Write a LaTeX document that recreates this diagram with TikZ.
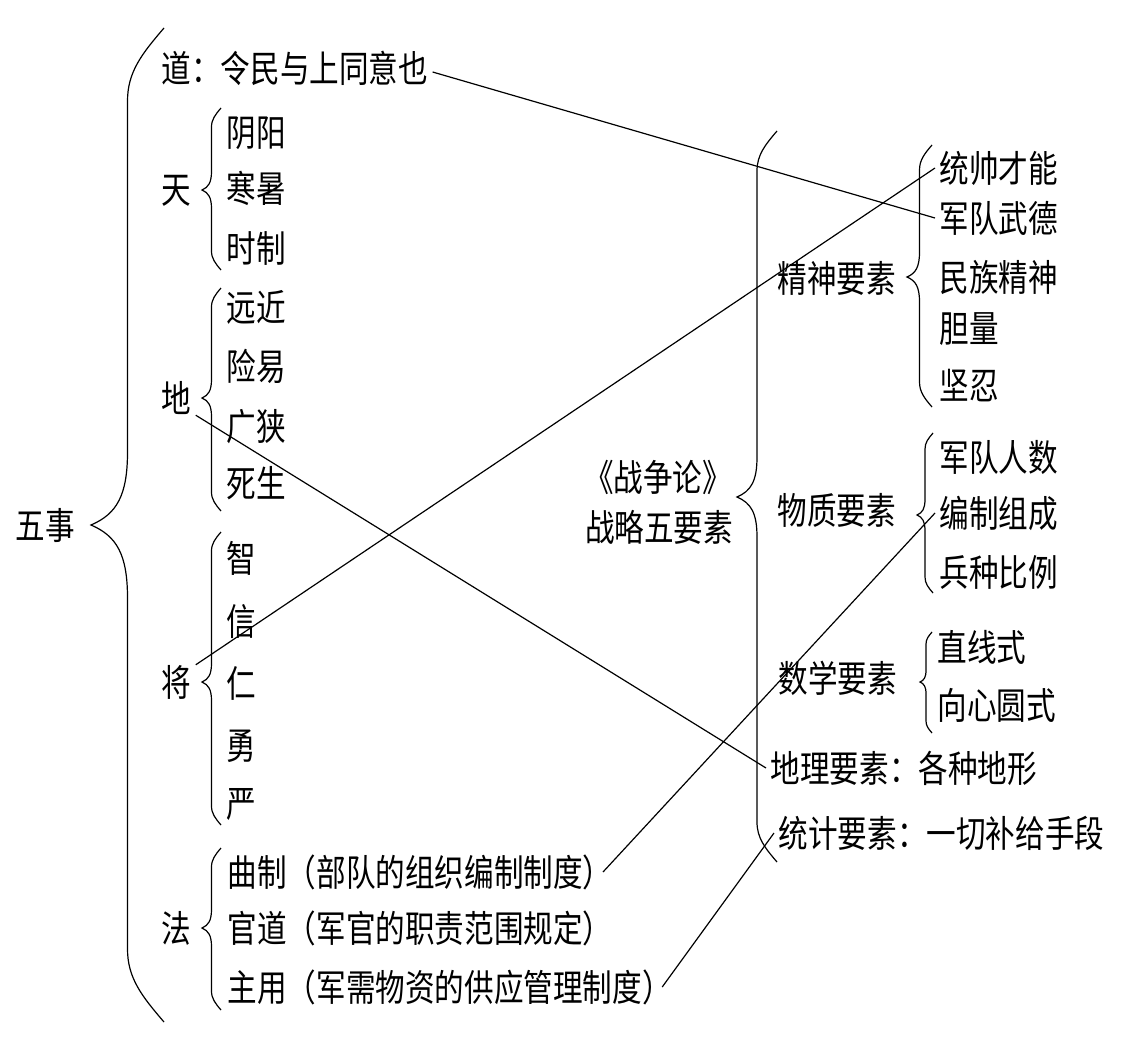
\documentclass[tikz,border=0pt]{standalone}
\usepackage{fontspec}
\setmainfont{Noto Sans CJK SC}[FakeStretch=0.8]
\usetikzlibrary{calc}

\newcommand{\curly}[5]{%
\draw (#1,#3) .. controls ({(#1+#2)/2+0.2*(#1-#2)},{#3+0.35*(#1-#2)}) and ({(#1+#2)/2},{#3+0.6*(#1-#2)}) .. ({(#1+#2)/2},{#3+(#1-#2)})
 -- ({(#1+#2)/2},{#4-(#1-#2)}) .. controls ({(#1+#2)/2},{#4-0.4*(#1-#2)}) and ({#2+0.35*(#1-#2)},{#4-0.15*(#1-#2)}) .. (#2,#4)
 .. controls ({#2+0.35*(#1-#2)},{#4+0.15*(#1-#2)}) and ({(#1+#2)/2},{#4+0.4*(#1-#2)}) .. ({(#1+#2)/2},{#4+(#1-#2)})
 -- ({(#1+#2)/2},{#5-(#1-#2)}) .. controls ({(#1+#2)/2},{#5-0.6*(#1-#2)}) and ({(#1+#2)/2+0.2*(#1-#2)},{#5-0.35*(#1-#2)}) .. (#1,#5);}

\begin{document}
\begin{tikzpicture}[x=1pt,y=-1pt,line width=1.2pt,
 txt/.style={anchor=west,inner xsep=4pt,inner ysep=0pt,font=\fontsize{37}{40}\selectfont,text height=30.7pt,text depth=2.6pt}]
\useasboundingbox (0,0) rectangle (1126,1041);

\node[txt] (wushi) at (11,525) {五事};
\node[txt] (dao) at (157,68) {道：令民与上同意也};
\node[txt] (tian) at (157,189) {天};
\node[txt] (di) at (157,398) {地};
\node[txt] (jiang) at (157,682) {将};
\node[txt] (fa) at (157,928) {法};
\foreach \t/\y [count=\i] in {阴阳/132,寒暑/188,时制/248}
 \node[txt] (tian\i) at (222,\y) {\t};
\foreach \t/\y [count=\i] in {远近/307,险易/366,广狭/426,死生/483}
 \node[txt] (di\i) at (222,\y) {\t};
\foreach \t/\y [count=\i] in {智/558,信/621,仁/683,勇/745,严/803}
 \node[txt] (jiang\i) at (222,\y) {\t};
\foreach \t/\y [count=\i] in {曲制（部队的组织编制制度）/872,官道（军官的职责范围规定）/928,主用（军需物资的供应管理制度）/987}
 \node[txt] (fa\i) at (223,\y) {\t};

\node[txt,anchor=center] (zzl) at (658,477) {《战争论》};
\node[txt,anchor=center] (wys) at (659,527) {战略五要素};
\node[txt] (jingshen) at (773,278) {精神要素};
\node[txt] (wuzhi) at (773,510) {物质要素};
\node[txt] (shuxue) at (774,678) {数学要素};
\node[txt] (dili) at (766,768) {地理要素：各种地形};
\node[txt] (tongji) at (774,833) {统计要素：一切补给手段};
\foreach \t/\y [count=\i] in {统帅才能/168,军队武德/218,民族精神/277,胆量/328,坚忍/385}
 \node[txt] (jingshen\i) at (935,\y) {\t};
\foreach \t/\y [count=\i] in {军队人数/457,编制组成/513,兵种比例/572}
 \node[txt] (wuzhi\i) at (935,\y) {\t};
\foreach \t/\y [count=\i] in {直线式/647,向心圆式/705}
 \node[txt] (shuxue\i) at (933,\y) {\t};

\curly{164}{91}{28}{525}{1022}
\curly{221}{202}{108}{190}{270}
\curly{221}{202}{288}{398}{511}
\curly{221}{202}{532}{682}{825}
\curly{221}{202}{848}{928}{1010}
\curly{777}{737}{131}{497}{862}
\curly{932}{907}{145}{277}{407}
\curly{933}{917}{433}{515}{593}
\curly{932}{920}{632}{682}{733}

\draw ([yshift=-4pt]dao.east) -- (jingshen2.west);
\draw (jiang.north east) -- (jingshen1.west);
\draw (di.south east) -- (dili.west);
\draw ([xshift=-14pt]fa1.east) -- (wuzhi2.west);
\draw ([xshift=-14pt]fa3.east) -- (tongji.west);
\end{tikzpicture}
\end{document}
